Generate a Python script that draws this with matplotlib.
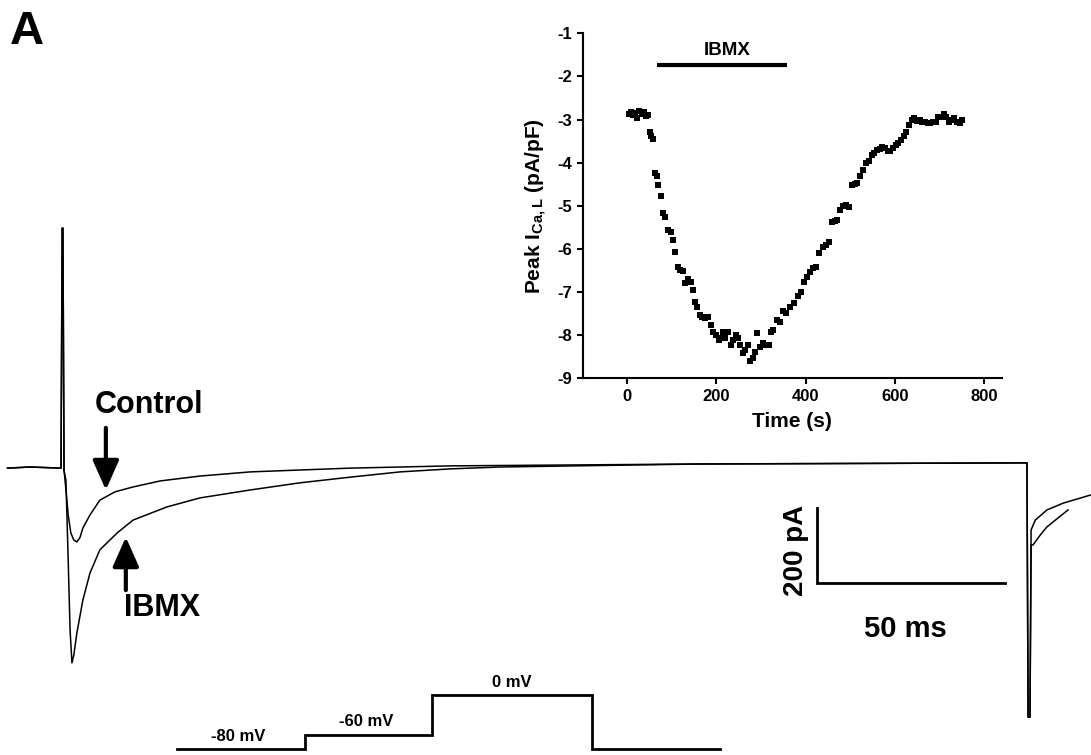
import matplotlib
matplotlib.use('Agg')
import matplotlib.pyplot as plt

plt.rcParams['font.family'] = ['Liberation Sans', 'DejaVu Sans']
plt.rcParams['font.weight'] = 'bold'
plt.rcParams['axes.labelweight'] = 'bold'
plt.rcParams['axes.unicode_minus'] = False
plt.rcParams['mathtext.fontset'] = 'custom'
plt.rcParams['mathtext.rm'] = 'Liberation Sans:bold'
plt.rcParams['mathtext.bf'] = 'Liberation Sans:bold'

# current traces (ms, pA)
control_t = [2, 8, 16.2, 16.5, 16.7, 17.0, 17.5, 18.1, 18.8, 19.6, 20.4, 21.2, 22.0, 23.9,
             26.5, 30.5, 35.3, 42.5, 53.1, 66.4, 79.6, 92.9, 119.5, 185.8, 272.4,
             272.6, 272.9, 273.4, 273.7, 274.8, 277.9, 282.2, 289.6]
control_i = [-3, 0, -3, 634, 634, -8, -60, -127, -175, -194, -199, -188, -162, -127,
             -88, -66, -53, -37, -24, -13, -8, -3, 3, 8, 11,
             11, -664, -664, -167, -141, -114, -96, -74]

ibmx_t = [2, 8, 16.2, 16.5, 16.7, 17.0, 17.5, 18.1, 18.6, 19.1, 19.6, 20.4, 22.0, 23.9,
          26.5, 31.1, 35.3, 44.3, 53.1, 66.4, 79.6, 92.9, 106.2, 119.5, 132.7, 185.8, 272.4,
          272.6, 272.9, 273.4, 273.7, 274.2, 276.1, 277.9, 283.5]
ibmx_i = [-3, 0, -3, 634, 634, -10, -35, -247, -433, -520, -499, -441, -353, -281,
          -220, -175, -141, -106, -82, -61, -42, -27, -13, -5, 0, 8, 11,
          11, -664, -664, -207, -207, -181, -159, -114]

# voltage protocol (ms, mV)
proto_t = [0, 34, 34, 67.7, 67.7, 110.2, 110.2, 144.2]
proto_v = [-80, -80, -60, -60, 0, 0, -80, -80]

# inset: peak I_Ca,L over time
time_s = [3, 8, 12, 17, 22, 27, 32, 37, 42, 46,
          50, 54, 58, 62, 66, 70, 75, 80, 85, 91,
          97, 102, 106, 113, 118, 124, 130, 136, 142, 147,
          153, 157, 163, 168, 175, 182, 187, 193, 199, 205,
          210, 215, 220, 226, 232, 237, 243, 249, 254, 260,
          265, 270, 276, 282, 287, 291, 298, 304, 311, 318,
          322, 328, 335, 342, 349, 356, 364, 373, 382, 389,
          396, 403, 410, 417, 424, 431, 438, 445, 452, 459,
          465, 471, 478, 485, 491, 497, 504, 510, 516, 522,
          529, 536, 542, 548, 554, 560, 566, 572, 578, 584,
          590, 596, 602, 608, 614, 620, 626, 632, 638, 644,
          650, 656, 662, 668, 674, 680, 686, 692, 698, 704,
          710, 716, 722, 728, 734, 740, 746, 751]
peak_ica = [-2.87, -2.82, -2.90, -2.85, -2.97, -2.80, -2.88, -2.83, -2.92, -2.90,
            -3.30, -3.38, -3.45, -4.25, -4.32, -4.52, -4.77, -5.17, -5.27, -5.56,
            -5.60, -5.79, -6.06, -6.42, -6.50, -6.52, -6.80, -6.70, -6.76, -6.95,
            -7.22, -7.34, -7.53, -7.57, -7.61, -7.57, -7.76, -7.92, -8.00, -8.11,
            -8.07, -7.92, -8.07, -7.92, -8.23, -8.11, -8.00, -8.07, -8.23, -8.42,
            -8.34, -8.23, -8.61, -8.54, -8.38, -7.96, -8.27, -8.19, -8.23, -8.23,
            -7.92, -7.88, -7.65, -7.69, -7.45, -7.49, -7.34, -7.26, -7.10, -6.99,
            -6.76, -6.64, -6.53, -6.45, -6.41, -6.10, -5.95, -5.90, -5.83, -5.37,
            -5.35, -5.33, -5.10, -5.00, -4.98, -5.02, -4.52, -4.50, -4.48, -4.32,
            -4.17, -4.01, -3.95, -3.82, -3.78, -3.71, -3.68, -3.63, -3.67, -3.72,
            -3.74, -3.67, -3.60, -3.55, -3.47, -3.38, -3.28, -3.13, -3.01, -2.97,
            -3.03, -3.01, -3.05, -3.05, -3.08, -3.09, -3.05, -3.05, -2.93, -2.95,
            -2.86, -2.93, -3.05, -3.01, -2.97, -3.05, -3.09, -3.01]
ibmx_period = [67, 359]

fig = plt.figure(figsize=(10.91, 7.55), dpi=100)

# main traces
ax = fig.add_axes([0, 0, 1, 1])
ax.plot(control_t, control_i, color='black', lw=1.1)
ax.plot(ibmx_t, ibmx_i, color='black', lw=1.1)
ax.set_xlim(0, 289.6)
ax.set_ylim(-764.5, 1239.7)
ax.axis('off')

# scale bar 50 ms / 200 pA
ax.plot([216.8, 216.8, 266.8], [-109, -309, -309], color='black', lw=2, solid_joinstyle='miter')
ax.text(211.3, -222, '200 pA', rotation=90, ha='center', va='center', fontsize=20)
ax.text(240.2, -430, '50 ms', ha='center', va='center', fontsize=21)

# arrows
ax.annotate('', xy=(28.1, -61), xytext=(28.1, 104),
            arrowprops=dict(arrowstyle='-|>,head_length=0.9,head_width=0.4',
                            mutation_scale=20, lw=3, color='black', shrinkA=0, shrinkB=0))
ax.annotate('', xy=(33.4, -186), xytext=(33.4, -327),
            arrowprops=dict(arrowstyle='-|>,head_length=0.9,head_width=0.4',
                            mutation_scale=20, lw=3, color='black', shrinkA=0, shrinkB=0))
ax.text(39.6, 165, 'Control', ha='center', va='center', fontsize=22)
ax.text(43.0, -374, 'IBMX', ha='center', va='center', fontsize=22)

fig.text(0.009, 0.958, 'A', fontsize=34, ha='left', va='center')

# voltage protocol
pax = fig.add_axes([176.7 / 1091, 0, (720 - 176.7) / 1091, 80 / 755])
pax.plot(proto_t, proto_v, color='black', lw=2, clip_on=False, solid_joinstyle='miter')
pax.set_xlim(0, 144.2)
pax.set_ylim(-88.9, 29.6)
pax.axis('off')
pax.text(16.3, -61, '-80 mV', ha='center', va='center', fontsize=12)
pax.text(50.2, -40, '-60 mV', ha='center', va='center', fontsize=12)
pax.text(89.0, 18, '0 mV', ha='center', va='center', fontsize=12)

# inset
iax = fig.add_axes([582.7 / 1091, 1 - 378.3 / 755, 419 / 1091, 345 / 755])
iax.plot(time_s, peak_ica, 's', color='black', ms=5, mew=0)
iax.plot(ibmx_period, [-1.735, -1.735], color='black', lw=3, solid_capstyle='butt')
iax.text(sum(ibmx_period) / 2 + 11, -1.39, 'IBMX', ha='center', va='center', fontsize=13.5)
iax.set_xlim(-100, 840)
iax.set_ylim(-9, -1)
iax.set_xticks([0, 200, 400, 600, 800])
iax.set_yticks(range(-9, 0))
iax.spines['top'].set_visible(False)
iax.spines['right'].set_visible(False)
for s in ['left', 'bottom']:
    iax.spines[s].set_linewidth(1.5)
iax.tick_params(direction='out', length=4, width=1.5, labelsize=12)
iax.set_xlabel('Time (s)', fontsize=15, labelpad=6)
iax.set_ylabel('Peak I$_{\\mathbf{Ca,L}}$ (pA/pF)', fontsize=15, labelpad=6)

fig.savefig('out.png', dpi=100)
